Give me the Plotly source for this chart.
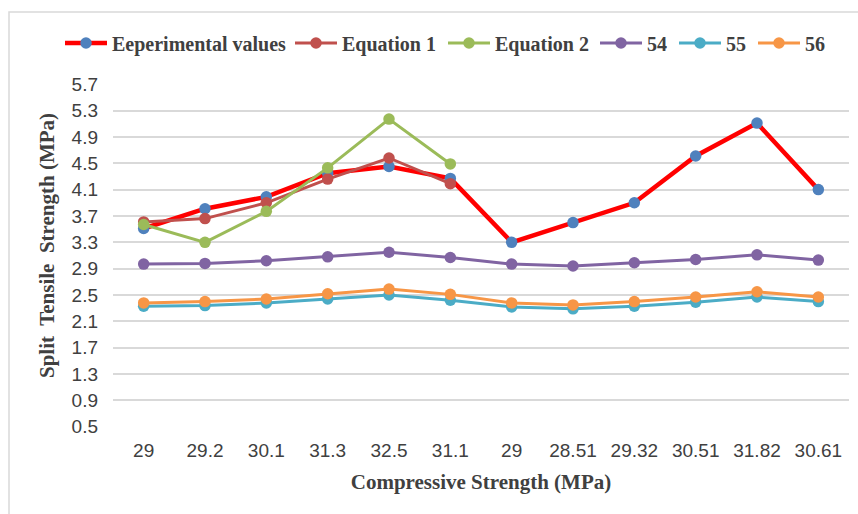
import plotly.graph_objects as go

# Compressive strength labels (category axis; "29" appears twice)
categories = ["29", "29.2", "30.1", "31.3", "32.5", "31.1",
              "29", "28.51", "29.32", "30.51", "31.82", "30.61"]

# Split tensile strength series (MPa)
experimental = [3.51, 3.81, 3.99, 4.35, 4.45, 4.27, 3.30, 3.60, 3.90, 4.61, 5.11, 4.10]
equation1 = [3.61, 3.66, 3.90, 4.26, 4.58, 4.19]
equation2 = [3.57, 3.30, 3.77, 4.43, 5.17, 4.49]
series54 = [2.97, 2.98, 3.02, 3.08, 3.15, 3.07, 2.97, 2.94, 2.99, 3.04, 3.11, 3.03]
series55 = [2.33, 2.34, 2.38, 2.44, 2.50, 2.42, 2.32, 2.29, 2.33, 2.39, 2.47, 2.40]
series56 = [2.38, 2.40, 2.44, 2.52, 2.59, 2.51, 2.38, 2.35, 2.40, 2.47, 2.55, 2.47]

y_ticks = [0.5, 0.9, 1.3, 1.7, 2.1, 2.5, 2.9, 3.3, 3.7, 4.1, 4.5, 4.9, 5.3, 5.7]

series = [
    ("Eeperimental values", experimental, "#FF0000", "#4F81BD", 4.5),
    ("Equation 1", equation1, "#C0504D", "#C0504D", 3),
    ("Equation 2", equation2, "#9BBB59", "#9BBB59", 3),
    ("54", series54, "#8064A2", "#8064A2", 3),
    ("55", series55, "#4BACC6", "#4BACC6", 3),
    ("56", series56, "#F79646", "#F79646", 3),
]

# plot area spans x 113..849 px and y 84..427 px
PLOT_LEFT, PLOT_W = 113, 736
PLOT_BOTTOM, PLOT_H = 427, 343

# left edge (px) of each legend entry, laid out in one row
legend_left_px = [60, 290, 443, 595, 674, 753]

text_color = "#404040"

fig = go.Figure()
legend_layouts = {}
for i, (name, values, line_color, marker_color, width) in enumerate(series):
    key = "legend" if i == 0 else f"legend{i + 1}"
    fig.add_trace(go.Scatter(
        x=list(range(len(values))),
        y=values,
        name=name,
        mode="lines+markers",
        line=dict(color=line_color, width=width),
        marker=dict(color=marker_color, size=11.5, line=dict(width=0)),
        legend=key,
    ))
    legend_layouts[key] = dict(
        orientation="h",
        x=(legend_left_px[i] - PLOT_LEFT) / PLOT_W,
        y=(PLOT_BOTTOM - 43) / PLOT_H,
        xanchor="left", yanchor="middle",
        font=dict(family="Liberation Serif", size=20, color=text_color, weight="bold"),
        itemwidth=42,
        bgcolor="rgba(0,0,0,0)",
    )

fig.update_layout(
    width=858,
    height=514,
    margin=dict(l=PLOT_LEFT, r=858 - PLOT_LEFT - PLOT_W, t=PLOT_BOTTOM - PLOT_H,
                b=514 - PLOT_BOTTOM),
    paper_bgcolor="white",
    plot_bgcolor="white",
    showlegend=True,
    xaxis=dict(
        tickmode="array",
        tickvals=list(range(len(categories))),
        ticktext=categories,
        range=[-0.5, len(categories) - 0.5],
        showgrid=False,
        zeroline=False,
        showline=False,
        ticks="",
        ticklabelstandoff=10,
        tickfont=dict(family="Liberation Sans", size=19, color=text_color),
        title=dict(
            text="Compressive Strength (MPa)",
            font=dict(family="Liberation Serif", size=21, color=text_color, weight="bold"),
            standoff=14,
        ),
    ),
    yaxis=dict(
        tickmode="array",
        tickvals=y_ticks,
        ticktext=[f"{v:.1f}" for v in y_ticks],
        range=[0.497, 5.703],
        showgrid=True,
        gridcolor="#D9D9D9",
        gridwidth=1.5,
        zeroline=False,
        showline=False,
        ticks="",
        ticklabelstandoff=14,
        tickfont=dict(family="Liberation Sans", size=19, color=text_color),
    ),
    annotations=[
        dict(
            text="Split  Tensile  Strength (MPa)",
            xref="paper", yref="paper",
            x=(47 - PLOT_LEFT) / PLOT_W, y=(PLOT_BOTTOM - 246) / PLOT_H,
            xanchor="center", yanchor="middle",
            textangle=-90, showarrow=False,
            font=dict(family="Liberation Serif", size=21, color=text_color, weight="bold"),
        )
    ],
    shapes=[
        dict(
            type="rect", xref="paper", yref="paper",
            x0=(9 - PLOT_LEFT) / PLOT_W, x1=1.1,
            y0=-0.4, y1=(PLOT_BOTTOM - 12) / PLOT_H,
            line=dict(color="#D9D9D9", width=1.5),
            fillcolor="rgba(0,0,0,0)",
            layer="below",
        )
    ],
    **legend_layouts,
)

fig.write_html("out.html")
